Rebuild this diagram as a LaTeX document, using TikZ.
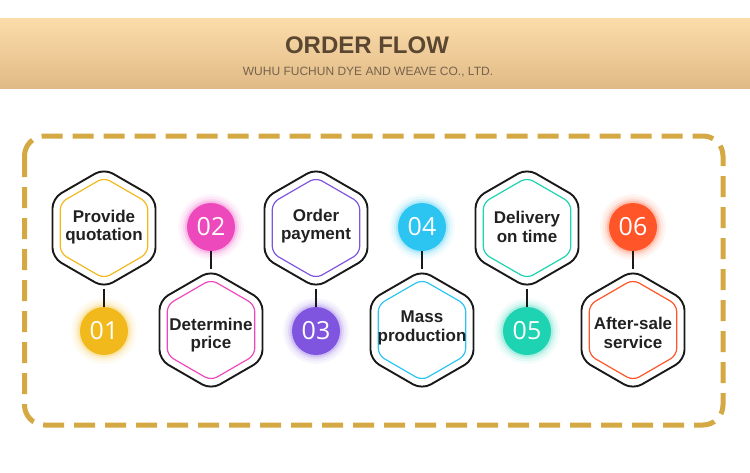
\documentclass[tikz,border=0pt]{standalone}
\usepackage{fontspec}
\setmainfont{Liberation Sans}
\newfontfamily\numFont{Open Sans}
\usetikzlibrary{shapes.geometric}
\definecolor{bandTop}{HTML}{FCDDAA}
\definecolor{bandBottom}{HTML}{E0BA86}
\definecolor{titleColor}{HTML}{5A4631}
\definecolor{subColor}{HTML}{75624C}
\definecolor{frameColor}{HTML}{D4A843}
\definecolor{stepA}{HTML}{F2B91D}
\definecolor{stepB}{HTML}{EE48BD}
\definecolor{stepC}{HTML}{7F55DF}
\definecolor{stepD}{HTML}{2CC5F2}
\definecolor{stepE}{HTML}{1ED3B1}
\definecolor{stepF}{HTML}{FF5528}

\begin{document}
\begin{tikzpicture}[x=1pt,y=-1pt,
  hexOuter/.style={regular polygon, regular polygon sides=6, shape border rotate=30,
    draw=black!90, line width=1.9pt, rounded corners=10pt, minimum size=119pt, inner sep=0pt},
  hexInner/.style={regular polygon, regular polygon sides=6, shape border rotate=30,
    draw=#1, line width=1.2pt, rounded corners=7pt, minimum size=101pt, inner sep=0pt},
  hexText/.style={font=\bfseries\fontsize{17}{18.5}\selectfont, text=black!87, align=center, inner sep=0pt},
  num/.style={circle, fill=#1, minimum size=48pt, inner sep=0pt, text=white,
    font=\numFont\fontsize{25}{25}\selectfont,
    preaction={draw=#1, draw opacity=.05, line width=18pt},
    preaction={draw=#1, draw opacity=.08, line width=13pt},
    preaction={draw=#1, draw opacity=.12, line width=8pt},
    preaction={draw=#1, draw opacity=.2, line width=4pt}},
  link/.style={draw=black!90, line width=1.5pt},
]
\useasboundingbox (0,0) rectangle (750,472);

% header band
\shade [top color=bandTop, bottom color=bandBottom] (0,18) rectangle (750,88);
\node [anchor=base, text=titleColor, font=\bfseries\fontsize{24}{24}\selectfont] (title) at (367,53) {ORDER FLOW};
\node [anchor=base, text=subColor, font=\fontsize{12}{12}\selectfont] (subtitle) at (368,75) {WUHU FUCHUN DYE AND WEAVE CO., LTD.};

% frame
\draw [frameColor, line width=5pt, dash pattern=on 21pt off 10pt, rounded corners=20pt] (24.5,136) rectangle (723,425);

% steps
\node [hexOuter] (h1) at (104,228) {};
\node [hexInner=stepA] (i1) at (104,228) {};
\node [hexText] (t1) at (104,227) {Provide\\quotation};
\node [num=stepA] (n1) at (104,331) {01};

\node [hexOuter] (h2) at (211,330) {};
\node [hexInner=stepB] (i2) at (211,330) {};
\node [hexText] (t2) at (211,335) {Determine\\price};
\node [num=stepB] (n2) at (211,227) {02};

\node [hexOuter] (h3) at (316,228) {};
\node [hexInner=stepC] (i3) at (316,228) {};
\node [hexText] (t3) at (316,226) {Order\\payment};
\node [num=stepC] (n3) at (316,331) {03};

\node [hexOuter] (h4) at (422,330) {};
\node [hexInner=stepD] (i4) at (422,330) {};
\node [hexText] (t4) at (422,328) {Mass\\production};
\node [num=stepD] (n4) at (422,227) {04};

\node [hexOuter] (h5) at (527,228) {};
\node [hexInner=stepE] (i5) at (527,228) {};
\node [hexText] (t5) at (527,227) {Delivery\\on time};
\node [num=stepE] (n5) at (527,331) {05};

\node [hexOuter] (h6) at (633,330) {};
\node [hexInner=stepF] (i6) at (633,330) {};
\node [hexText] (t6) at (633,333) {After-sale\\service};
\node [num=stepF] (n6) at (633,227) {06};

% links
\draw [link] (h1) -- (n1);
\draw [link] (n2) -- (h2);
\draw [link] (h3) -- (n3);
\draw [link] (n4) -- (h4);
\draw [link] (h5) -- (n5);
\draw [link] (n6) -- (h6);
\end{tikzpicture}
\end{document}
